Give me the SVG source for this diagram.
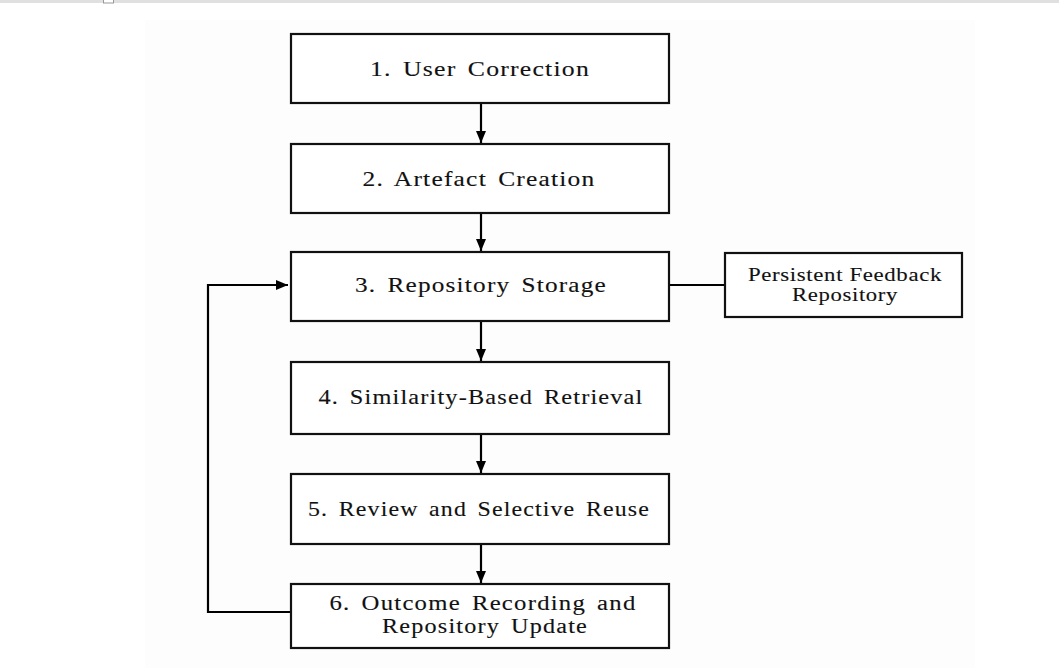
<svg xmlns="http://www.w3.org/2000/svg" width="1059" height="668" viewBox="0 0 1059 668">
<defs>
<marker id="ah" viewBox="0 0 12 10" refX="12" refY="5" markerWidth="12" markerHeight="10" markerUnits="userSpaceOnUse" orient="auto">
<path d="M0,0 L12,5 L0,10 Z" fill="#000"/>
</marker>
<style>
.box{fill:#fff;stroke:#111;stroke-width:2.2}
.t{font-family:"Liberation Serif","Times New Roman",serif;font-size:21px;fill:#111;text-anchor:middle;stroke:#111;stroke-width:0.12;letter-spacing:1px;word-spacing:3px}
.t2{font-size:20px}
.s{font-family:"Liberation Serif","Times New Roman",serif;font-size:18px;fill:#111;text-anchor:middle;stroke:#111;stroke-width:0.1;letter-spacing:0.5px}
.c{fill:none;stroke:#000;stroke-width:2.2}
</style>
</defs>
<rect x="0" y="0" width="1059" height="668" fill="#fff"/>
<rect x="145" y="20" width="830" height="648" fill="#fdfdfd"/>
<rect x="0" y="0" width="1059" height="3" fill="#e0e0e0"/>
<rect x="103.5" y="-1" width="10" height="4" fill="#fff" stroke="#999" stroke-width="1"/>
<g id="connectors">
<line class="c" x1="481" y1="104" x2="481" y2="143" marker-end="url(#ah)"/>
<line class="c" x1="481" y1="214" x2="481" y2="251" marker-end="url(#ah)"/>
<line class="c" x1="481" y1="322" x2="481" y2="361" marker-end="url(#ah)"/>
<line class="c" x1="481" y1="435" x2="481" y2="473" marker-end="url(#ah)"/>
<line class="c" x1="481" y1="545" x2="481" y2="583" marker-end="url(#ah)"/>
<polyline class="c" points="291,612 208,612 208,285 288,285" marker-end="url(#ah)"/>
<line class="c" x1="669" y1="285" x2="725" y2="285"/>
</g>
<g id="n1"><rect class="box" x="291" y="34" width="378" height="69"/><text class="t" x="480" y="76" textLength="220" lengthAdjust="spacingAndGlyphs">1. User Correction</text></g>
<g id="n2"><rect class="box" x="291" y="144" width="378" height="69"/><text class="t" x="479" y="186" textLength="233" lengthAdjust="spacingAndGlyphs">2. Artefact Creation</text></g>
<g id="n3"><rect class="box" x="291" y="252" width="378" height="69"/><text class="t" x="481" y="292" textLength="252" lengthAdjust="spacingAndGlyphs">3. Repository Storage</text></g>
<g id="n4"><rect class="box" x="291" y="362" width="378" height="72"/><text class="t" x="481" y="404" textLength="325" lengthAdjust="spacingAndGlyphs">4. Similarity-Based Retrieval</text></g>
<g id="n5"><rect class="box" x="291" y="474" width="378" height="70"/><text class="t" x="479" y="516" textLength="342" lengthAdjust="spacingAndGlyphs">5. Review and Selective Reuse</text></g>
<g id="n6"><rect class="box" x="291" y="584" width="378" height="64"/><text class="t t2" x="483" y="610" textLength="307" lengthAdjust="spacingAndGlyphs">6. Outcome Recording and</text><text class="t t2" x="485" y="633" textLength="206" lengthAdjust="spacingAndGlyphs">Repository Update</text></g>
<g id="n7"><rect class="box" x="725" y="253" width="237" height="64"/><text class="s" x="845" y="281" textLength="194" lengthAdjust="spacingAndGlyphs">Persistent Feedback</text><text class="s" x="845" y="301" textLength="106" lengthAdjust="spacingAndGlyphs">Repository</text></g>
</svg>
